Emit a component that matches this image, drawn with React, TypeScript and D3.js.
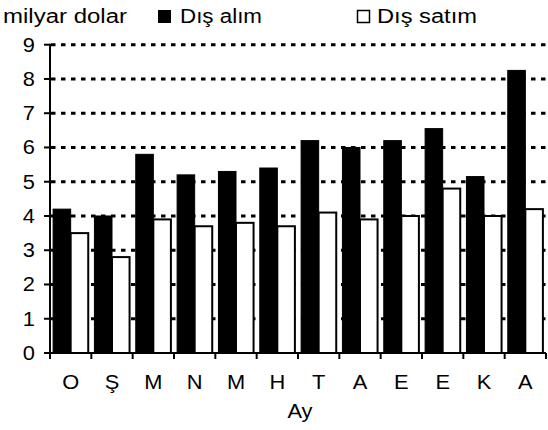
import React from "react";
import * as d3 from "d3";

const months = ["O", "Ş", "M", "N", "M", "H", "T", "A", "E", "E", "K", "A"];
const disAlim = [4.2, 4.0, 5.8, 5.2, 5.3, 5.4, 6.2, 6.0, 6.2, 6.55, 5.15, 8.25];
const disSatim = [3.5, 2.8, 3.9, 3.7, 3.8, 3.7, 4.1, 3.9, 4.0, 4.8, 4.0, 4.2];
const yTicks = [0, 1, 2, 3, 4, 5, 6, 7, 8, 9];
const seriesNames = ["Dış alım", "Dış satım"];
const yUnit = "milyar dolar";
const xTitle = "Ay";

const W = 548;
const H = 430;
const left = 50;
const right = 546;
const top = 44.7;
const bottom = 353;
const SX = 1.12;
const FONT = "'Liberation Sans', Arial, sans-serif";
const FS = 19.5;

function T({ x, y, anchor = "start", len, children }: any) {
  if (len) {
    return (
      <text x={x} y={y} textAnchor={anchor} fontFamily={FONT} fontSize={FS} fill="#000" textLength={len} lengthAdjust="spacingAndGlyphs">
        {children}
      </text>
    );
  }
  return (
    <text
      transform={`translate(${x},${y}) scale(${SX},1)`}
      textAnchor={anchor}
      fontFamily={FONT}
      fontSize={FS}
      fill="#000"
    >
      {children}
    </text>
  );
}

export default function App() {
  const x = d3.scaleBand<number>().domain(d3.range(months.length)).range([left, right]).paddingInner(0.15).paddingOuter(0.075);
  const step = (right - left) / months.length;
  const y = d3.scaleLinear().domain([0, 9]).range([bottom, top]);
  const bw = x.bandwidth() / 2;

  return (
    <svg width={W} height={H} style={{ position: "absolute", left: 0, top: 0, background: "#fff" }}>
      <rect x={0} y={0} width={W} height={H} fill="#fff" />
      {yTicks.filter((t) => t > 0).map((t) => (
        <line key={"g" + t} x1={left + 1} x2={right} y1={y(t)} y2={y(t)} stroke="#000" strokeWidth={3} strokeDasharray="4.5,5.5" />
      ))}
      {disAlim.map((v, i) => (
        <rect key={"a" + i} x={x(i)!} y={y(v)} width={bw} height={bottom - y(v)} fill="#000" stroke="#000" strokeWidth={1} />
      ))}
      {disSatim.map((v, i) => (
        <rect key={"s" + i} x={x(i)! + bw} y={y(v)} width={bw} height={bottom - y(v)} fill="#fff" stroke="#000" strokeWidth={2} />
      ))}
      <line x1={left} x2={left} y1={top - 1} y2={bottom} stroke="#000" strokeWidth={2} />
      {yTicks.map((t) => (
        <g key={"y" + t}>
          <line x1={left - 6} x2={left} y1={y(t)} y2={y(t)} stroke="#000" strokeWidth={2} />
          <T x={35} y={y(t) + 7} anchor="end">{t}</T>
        </g>
      ))}
      <line x1={left - 1} x2={right} y1={bottom} y2={bottom} stroke="#000" strokeWidth={2} />
      {d3.range(months.length + 1).map((i) => (
        <line key={"xt" + i} x1={left + i * step} x2={left + i * step} y1={bottom} y2={bottom + 6} stroke="#000" strokeWidth={2} />
      ))}
      {months.map((m, i) => (
        <T key={"xl" + i} x={left + (i + 0.5) * step} y={389} anchor="middle">{m}</T>
      ))}
      <T x={300} y={418} anchor="middle">{xTitle}</T>
      <T x={3} y={23} len={124}>{yUnit}</T>
      <rect x={158} y={10} width={13} height={13} fill="#000" />
      <T x={180} y={23} len={82}>{seriesNames[0]}</T>
      <rect x={357.5} y={10.5} width={12} height={12} fill="#fff" stroke="#000" strokeWidth={1.5} />
      <T x={377} y={23} len={100}>{seriesNames[1]}</T>
    </svg>
  );
}
